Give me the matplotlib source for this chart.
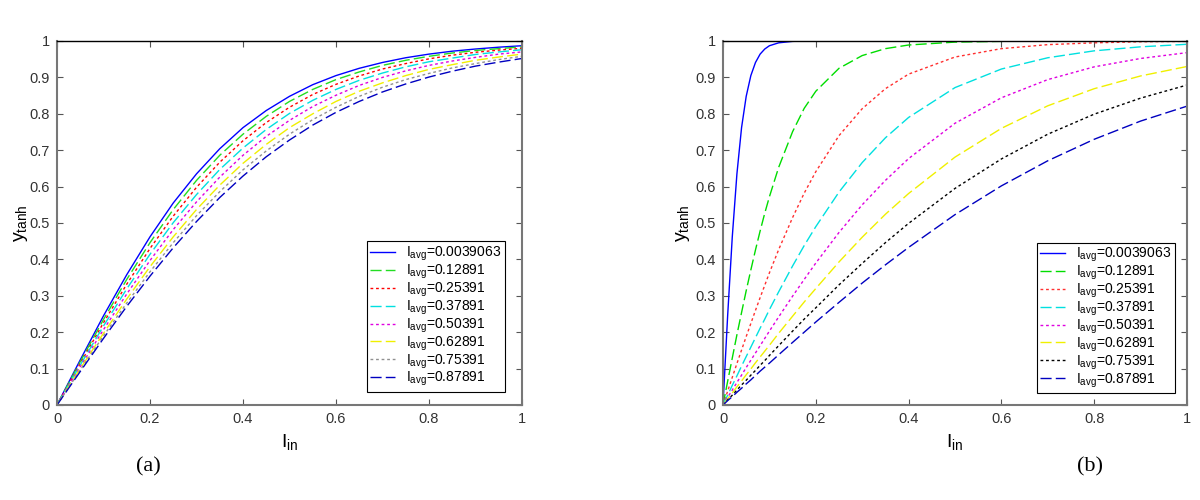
import numpy as np
import matplotlib
matplotlib.use('Agg')
import matplotlib.pyplot as plt
from matplotlib.ticker import FormatStrFormatter

plt.rcParams['font.family'] = ['Liberation Sans', 'DejaVu Sans']

# legend values (I_avg)
Iavg = ['0.0039063', '0.12891', '0.25391', '0.37891', '0.50391', '0.62891', '0.75391', '0.87891']

# panel (a)
xa = [0, 0.05, 0.1, 0.15, 0.2, 0.25, 0.3, 0.35, 0.4, 0.45, 0.5,
      0.55, 0.6, 0.65, 0.7, 0.75, 0.8, 0.85, 0.9, 0.95, 1.0]
ya1 = [0, 0.124, 0.245, 0.358, 0.462, 0.555, 0.635, 0.704, 0.762, 0.809, 0.848, 0.880, 0.905, 0.925, 0.941, 0.954, 0.964, 0.972, 0.978, 0.983, 0.987]
ya2 = [0, 0.119, 0.235, 0.345, 0.446, 0.537, 0.617, 0.686, 0.744, 0.793, 0.834, 0.867, 0.894, 0.915, 0.933, 0.947, 0.958, 0.967, 0.974, 0.979, 0.984]
ya3 = [0, 0.114, 0.226, 0.332, 0.430, 0.519, 0.598, 0.667, 0.726, 0.776, 0.818, 0.853, 0.881, 0.904, 0.923, 0.938, 0.951, 0.961, 0.969, 0.975, 0.980]
ya4 = [0, 0.110, 0.217, 0.319, 0.414, 0.501, 0.578, 0.647, 0.706, 0.757, 0.801, 0.837, 0.867, 0.892, 0.912, 0.929, 0.943, 0.953, 0.963, 0.970, 0.976]
ya5 = [0, 0.105, 0.207, 0.305, 0.397, 0.482, 0.558, 0.626, 0.686, 0.738, 0.782, 0.820, 0.851, 0.878, 0.900, 0.918, 0.933, 0.945, 0.955, 0.964, 0.970]
ya6 = [0, 0.100, 0.197, 0.291, 0.380, 0.462, 0.537, 0.604, 0.664, 0.716, 0.762, 0.800, 0.834, 0.862, 0.885, 0.905, 0.922, 0.935, 0.947, 0.956, 0.964]
ya7 = [0, 0.096, 0.190, 0.280, 0.366, 0.446, 0.520, 0.586, 0.646, 0.698, 0.744, 0.784, 0.818, 0.848, 0.873, 0.894, 0.911, 0.926, 0.938, 0.949, 0.958]
ya8 = [0, 0.092, 0.183, 0.271, 0.354, 0.432, 0.504, 0.570, 0.629, 0.682, 0.728, 0.769, 0.804, 0.834, 0.860, 0.882, 0.901, 0.917, 0.931, 0.942, 0.952]

# panel (b)
xb = [0, 0.01, 0.02, 0.03, 0.04, 0.05, 0.06, 0.07, 0.08, 0.09, 0.1, 0.12, 0.15, 0.175, 0.2,
      0.25, 0.3, 0.35, 0.4, 0.5, 0.6, 0.7, 0.8, 0.9, 1.0]
yb1 = [0, 0.245, 0.462, 0.635, 0.762, 0.848, 0.905, 0.941, 0.964, 0.978, 0.987, 0.995, 0.999, 1, 1, 1, 1, 1, 1, 1, 1, 1, 1, 1, 1]
yb2 = [0, 0.065, 0.129, 0.193, 0.254, 0.314, 0.371, 0.426, 0.478, 0.527, 0.572, 0.653, 0.751, 0.815, 0.862, 0.925, 0.960, 0.979, 0.989, 0.997, 0.999, 1, 1, 1, 1]
yb3 = [0, 0.038, 0.076, 0.114, 0.151, 0.188, 0.224, 0.260, 0.295, 0.329, 0.363, 0.427, 0.515, 0.582, 0.641, 0.740, 0.814, 0.869, 0.909, 0.956, 0.979, 0.990, 0.995, 0.998, 0.999]
yb4 = [0, 0.027, 0.054, 0.080, 0.107, 0.133, 0.159, 0.185, 0.211, 0.236, 0.262, 0.311, 0.382, 0.438, 0.490, 0.585, 0.666, 0.734, 0.790, 0.872, 0.923, 0.954, 0.973, 0.984, 0.991]
yb5 = [0, 0.021, 0.041, 0.062, 0.082, 0.103, 0.123, 0.143, 0.163, 0.183, 0.203, 0.242, 0.299, 0.345, 0.390, 0.474, 0.550, 0.617, 0.677, 0.774, 0.844, 0.894, 0.929, 0.952, 0.968]
yb6 = [0, 0.017, 0.033, 0.050, 0.066, 0.083, 0.099, 0.116, 0.132, 0.148, 0.164, 0.197, 0.244, 0.283, 0.320, 0.393, 0.461, 0.524, 0.581, 0.681, 0.760, 0.822, 0.869, 0.904, 0.930]
yb7 = [0, 0.014, 0.027, 0.041, 0.055, 0.068, 0.082, 0.095, 0.109, 0.122, 0.136, 0.163, 0.203, 0.236, 0.267, 0.330, 0.389, 0.446, 0.499, 0.595, 0.676, 0.744, 0.799, 0.843, 0.879]
yb8 = [0, 0.012, 0.023, 0.035, 0.046, 0.058, 0.069, 0.081, 0.093, 0.104, 0.115, 0.138, 0.172, 0.200, 0.228, 0.282, 0.335, 0.385, 0.433, 0.523, 0.602, 0.671, 0.730, 0.780, 0.821]

dash = (8, 3)
dot = (2, 2)
styles_a = [('#0000ff', None), ('#22dd22', dash), ('#ff0000', dot), ('#00e0e0', dash),
            ('#e000e0', dot), ('#f0f000', dash), ('#909090', dot), ('#0000c0', dash)]
styles_b = [('#0000ff', None), ('#00dd00', dash), ('#ff3030', dot), ('#00e0e0', dash),
            ('#e000e0', dot), ('#f0f000', dash), ('#000000', dot), ('#0000c0', dash)]

fig = plt.figure(figsize=(12, 5), dpi=100)
ax1 = fig.add_axes([57/1200, 1-405/500, (522-57)/1200, 364/500])
ax2 = fig.add_axes([723/1200, 1-405/500, (1187-723)/1200, 364/500])


def draw(ax, x, ys, styles, anchor, ylab_x):
	for y, (c, d), lab in zip(ys, styles, Iavg):
		ln, = ax.plot(x, y, color=c, lw=1.0, label=r'$\mathregular{I_{avg}}$=' + lab)
		if d is not None:
			ln.set_dashes(d)
	ax.set_xlim(0, 1)
	ax.set_ylim(0, 1)
	ax.set_xticks(np.arange(0, 1.01, 0.2))
	ax.set_yticks(np.arange(0, 1.01, 0.1))
	ax.xaxis.set_major_formatter(FormatStrFormatter('%g'))
	ax.yaxis.set_major_formatter(FormatStrFormatter('%g'))
	ax.tick_params(direction='in', length=4, top=True, right=True, labelsize=10.5,
				   labelcolor='#333333', color='#555555', pad=5)
	for s in ['left', 'bottom', 'right']:
		ax.spines[s].set_color('#777777')
		ax.spines[s].set_linewidth(1.5)
	ax.spines['top'].set_color('black')
	ax.spines['top'].set_linewidth(1.0)
	ax.set_xlabel(r'$\mathregular{I_{in}}$', fontsize=14, labelpad=4)
	ax.set_ylabel(r'$\mathregular{y_{tanh}}$', fontsize=14)
	ax.yaxis.set_label_coords(ylab_x, 0.5)
	leg = ax.legend(loc='lower right', bbox_to_anchor=anchor, fontsize=10,
					frameon=True, fancybox=False, framealpha=1, edgecolor='black',
					handlelength=1.8, labelspacing=-0.03, borderpad=0.25,
					handletextpad=0.8, borderaxespad=0)
	leg.get_frame().set_linewidth(0.8)


draw(ax1, xa, [ya1, ya2, ya3, ya4, ya5, ya6, ya7, ya8], styles_a, (0.963, 0.036), -0.058)
draw(ax2, xb, [yb1, yb2, yb3, yb4, yb5, yb6, yb7, yb8], styles_b, (0.974, 0.033), -0.067)

fig.text(148/1200, 1-467/500, '(a)', fontsize=16, family='Liberation Serif', ha='center', va='center')
fig.text(1090/1200, 1-467/500, '(b)', fontsize=16, family='Liberation Serif', ha='center', va='center')

plt.savefig('out.png', dpi=100)
